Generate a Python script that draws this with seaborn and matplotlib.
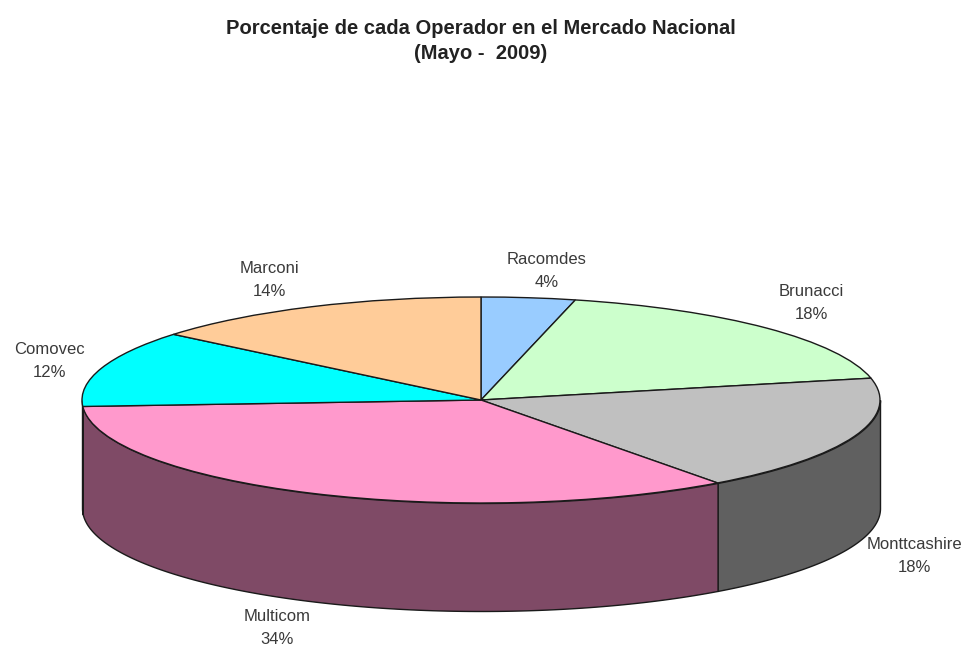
import numpy as np
import matplotlib
matplotlib.use("Agg")
import matplotlib.pyplot as plt
import seaborn as sns

# datos (con decimales estimados, la etiqueta redondea)
operators = ['Racomdes', 'Brunacci', 'Monttcashire', 'Multicom', 'Comovec', 'Marconi']
shares = [3.8, 17.8, 18.3, 34.1, 12, 14]
top_colors = ['#99ccff', '#ccffcc', '#c0c0c0', '#ff99cc', '#00ffff', '#ffcc99']
side_colors = ['#4d6680', '#668066', '#606060', '#7f4a66', '#008080', '#806650']
label_px = [(547, 271), (811, 303), (914, 556), (277, 628), (49, 361), (269, 280)]

W, H = 963, 646
CX, CY, RX, RY, DEPTH = 481, 400, 399, 103, 108

sns.set_theme(style='white')
plt.rcParams['font.family'] = ['Liberation Sans', 'DejaVu Sans']

fig = plt.figure(figsize=(W / 100, H / 100), dpi=100, facecolor='white')
ax = fig.add_axes([0, 0, 1, 1])

# la tapa: pie normal aplastado con aspect auto
ax.pie(shares, colors=top_colors, startangle=90, counterclock=False, radius=1,
       wedgeprops={'edgecolor': '#1a1a1a', 'linewidth': 1.0, 'zorder': 3})
ax.set_aspect('auto')
ax.set_xlim(-CX / RX, (W - CX) / RX)
ax.set_ylim(-(H - CY) / RY, CY / RY)
ax.axis('off')

# pared lateral, solo la mitad delantera (90 a 270 grados en sentido horario)
edges = np.cumsum([0] + shares) * 3.6
depth = DEPTH / RY
for i in range(len(shares)):
    a0, a1 = max(edges[i], 90), min(edges[i + 1], 270)
    if a1 <= a0:
        continue
    t = np.radians(np.linspace(a0, a1, 120))
    x = np.sin(t)
    y = np.cos(t)
    ax.fill_between(x, y, y - depth, facecolor=side_colors[i], edgecolor='#1a1a1a',
                    linewidth=1.0, zorder=2)

for name, pct, (px, py) in zip(operators, shares, label_px):
    fig.text(px / W, 1 - py / H, f'{name}\n{pct:.0f}%', ha='center', va='center',
             fontsize=12, color='#3a3a3a', linespacing=1.6)

fig.text(481 / W, 1 - 41 / H, 'Porcentaje de cada Operador en el Mercado Nacional\n(Mayo -  2009)',
         ha='center', va='center', fontsize=14.5, fontweight='bold', color='#222222',
         linespacing=1.35)

fig.savefig('out.png', dpi=100, facecolor='white')
